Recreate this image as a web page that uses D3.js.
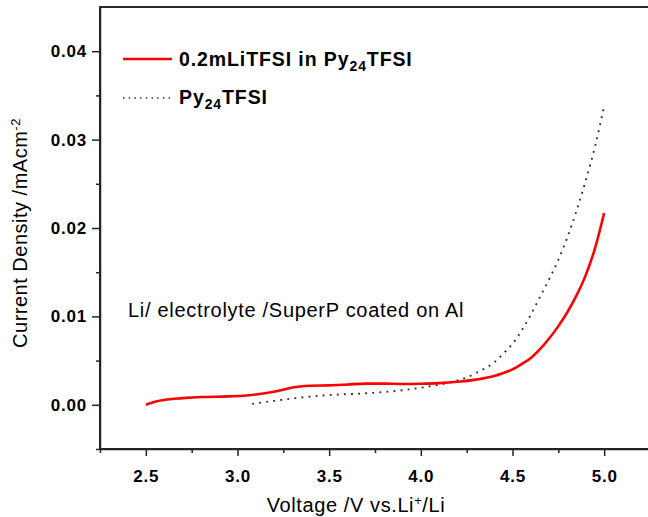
<!DOCTYPE html>
<html>
<head>
<meta charset="utf-8">
<script src="https://cdn.jsdelivr.net/npm/d3@7"></script>
<style>
	body { margin: 0; background: #fff; }
	svg { display: block; font-family: "Liberation Sans", Arial, sans-serif; }
	.tick text { font-weight: bold; font-size: 17px; fill: #000; letter-spacing: 0.8px; }
	.axis path, .axis line { stroke: #222; stroke-width: 1.5; }
</style>
</head>
<body>
<svg id="chart" width="648" height="517"></svg>
<script>

	// red curve: 0.2m LiTFSI in Py24TFSI
	var liVoltage = [2.50, 2.55, 2.60, 2.70, 2.80, 2.95, 3.05, 3.15, 3.25, 3.30, 3.40, 3.50, 3.60, 3.70, 3.80, 3.90, 4.00, 4.10, 4.20, 4.30, 4.40, 4.45, 4.50, 4.55, 4.60, 4.65, 4.70, 4.75, 4.80, 4.85, 4.90, 4.95, 5.00];
	var liCurrent = [0.00000, 0.00035, 0.00055, 0.00075, 0.00088, 0.00095, 0.00105, 0.00130, 0.00170, 0.00195, 0.00215, 0.00220, 0.00230, 0.00240, 0.00240, 0.00235, 0.00238, 0.00245, 0.00260, 0.00285, 0.00325, 0.00360, 0.00400, 0.00460, 0.00530, 0.00630, 0.00750, 0.00890, 0.01050, 0.01240, 0.01470, 0.01770, 0.02170];

	// dotted curve: neat Py24TFSI
	var pyVoltage = [3.08, 3.20, 3.32, 3.50, 3.70, 3.90, 4.05, 4.15, 4.25, 4.32, 4.40, 4.45, 4.50, 4.55, 4.60, 4.65, 4.70, 4.75, 4.80, 4.85, 4.90, 4.95, 5.00];
	var pyCurrent = [0.00010, 0.00045, 0.00076, 0.00110, 0.00130, 0.00165, 0.00210, 0.00250, 0.00310, 0.00380, 0.00480, 0.00580, 0.00690, 0.00840, 0.01020, 0.01220, 0.01420, 0.01640, 0.01900, 0.02200, 0.02540, 0.02920, 0.03380];

	var xTicks = [2.5, 3.0, 3.5, 4.0, 4.5, 5.0];
	var xMinor = [2.25, 2.75, 3.25, 3.75, 4.25, 4.75, 5.25];
	var yTicks = [0.00, 0.01, 0.02, 0.03, 0.04];
	var yMinor = [-0.005, 0.005, 0.015, 0.025, 0.035];

	(function () {
		var svg = d3.select("#chart");

		var mLeft = 100, mRight = 650, mTop = 7, mBottom = 449;

		var x = d3.scaleLinear().domain([2.25, 5.25]).range([mLeft, mRight]);
		var y = d3.scaleLinear().domain([-0.005, 0.045]).range([mBottom, mTop]);

		// frame (right edge falls just outside the picture)
		svg.append("rect")
			.attr("x", mLeft).attr("y", mTop)
			.attr("width", mRight - mLeft).attr("height", mBottom - mTop)
			.attr("fill", "none").attr("stroke", "#111").attr("stroke-width", 1.8);

		// minor ticks
		var gxm = svg.append("g").attr("class", "axis").attr("transform", `translate(0,${mBottom})`)
			.call(d3.axisBottom(x).tickValues(xMinor).tickSize(4).tickFormat("").tickSizeOuter(0));
		gxm.select(".domain").remove();
		var gym = svg.append("g").attr("class", "axis").attr("transform", `translate(${mLeft},0)`)
			.call(d3.axisLeft(y).tickValues(yMinor).tickSize(4).tickFormat("").tickSizeOuter(0));
		gym.select(".domain").remove();

		// major axes
		svg.append("g").attr("class", "axis").attr("transform", `translate(0,${mBottom})`)
			.call(d3.axisBottom(x).tickValues(xTicks).tickSize(7).tickPadding(14).tickSizeOuter(0).tickFormat(d3.format(".1f")));
		svg.append("g").attr("class", "axis").attr("transform", `translate(${mLeft},0)`)
			.call(d3.axisLeft(y).tickValues(yTicks).tickSize(8).tickPadding(5).tickSizeOuter(0).tickFormat(d3.format(".2f")));

		var line = d3.line().x(d => x(d[0])).y(d => y(d[1])).curve(d3.curveMonotoneX);

		svg.append("path")
			.datum(d3.zip(pyVoltage, pyCurrent))
			.attr("d", line)
			.attr("fill", "none").attr("stroke", "#333").attr("stroke-width", 1.9)
			.attr("stroke-dasharray", "1.9 5.2");

		svg.append("path")
			.datum(d3.zip(liVoltage, liCurrent))
			.attr("d", line)
			.attr("fill", "none").attr("stroke", "#ff0000").attr("stroke-width", 2.6);

		// legend
		svg.append("line").attr("x1", 123).attr("x2", 172).attr("y1", 59).attr("y2", 59)
			.attr("stroke", "#ff0000").attr("stroke-width", 2.6);
		svg.append("line").attr("x1", 123).attr("x2", 172).attr("y1", 98).attr("y2", 98)
			.attr("stroke", "#333").attr("stroke-width", 1.5).attr("stroke-dasharray", "1.5 4.2");

		var l1 = svg.append("text").attr("x", 179).attr("y", 66)
			.style("font-weight", "bold").style("font-size", "19.5px").style("letter-spacing", "0.9px");
		l1.append("tspan").text("0.2mLiTFSI in Py");
		l1.append("tspan").attr("dy", 5).style("font-size", "14px").text("24");
		l1.append("tspan").attr("dy", -5).text("TFSI");

		var l2 = svg.append("text").attr("x", 179).attr("y", 104)
			.style("font-weight", "bold").style("font-size", "19.5px").style("letter-spacing", "0.9px");
		l2.append("tspan").text("Py");
		l2.append("tspan").attr("dy", 5).style("font-size", "14px").text("24");
		l2.append("tspan").attr("dy", -5).text("TFSI");

		// annotation
		svg.append("text").attr("x", 128).attr("y", 317)
			.style("font-size", "20px").style("letter-spacing", "0.7px")
			.text("Li/ electrolyte /SuperP coated on Al");

		// axis titles
		var yl = svg.append("text").attr("transform", "translate(27,233) rotate(-90)")
			.attr("text-anchor", "middle").style("font-size", "20px").style("letter-spacing", "0.5px");
		yl.append("tspan").text("Current Density /mAcm");
		yl.append("tspan").attr("dy", -7).style("font-size", "13px").text("-2");

		var xl = svg.append("text").attr("x", 356).attr("y", 512)
			.attr("text-anchor", "middle").style("font-size", "20px").style("letter-spacing", "0.6px");
		xl.append("tspan").text("Voltage /V vs.Li");
		xl.append("tspan").attr("dy", -7).style("font-size", "13px").text("+");
		xl.append("tspan").attr("dy", 7).text("/Li");
	})();

</script>
</body>
</html>
